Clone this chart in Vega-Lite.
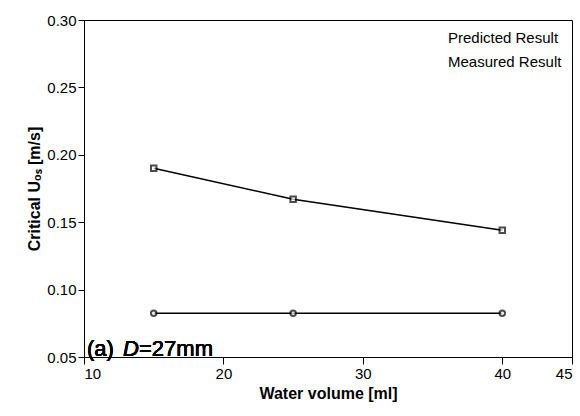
{
  "$schema": "https://vega.github.io/schema/vega-lite/v6.json",
  "width": 488,
  "height": 337,
  "autosize": {"type": "none"},
  "padding": {"left": 84, "top": 20, "right": 8, "bottom": 59},
  "background": "white",
  "config": {
    "font": "Liberation Sans",
    "view": {"stroke": "black", "strokeWidth": 1},
    "axis": {
      "domainColor": "black",
      "domainWidth": 1,
      "labelColor": "black",
      "labelFontSize": 15,
      "titleColor": "black",
      "titleFontSize": 16,
      "titleFontWeight": "bold",
      "grid": false
    }
  },
  "data": {
    "values": [
      {"volume": 15, "u": 0.190, "series": "Predicted Result"},
      {"volume": 25, "u": 0.167, "series": "Predicted Result"},
      {"volume": 40, "u": 0.144, "series": "Predicted Result"},
      {"volume": 15, "u": 0.0825, "series": "Measured Result"},
      {"volume": 25, "u": 0.0825, "series": "Measured Result"},
      {"volume": 40, "u": 0.0825, "series": "Measured Result"}
    ]
  },
  "layer": [
    {
      "mark": {"type": "line", "color": "black", "strokeWidth": 1.5},
      "encoding": {
        "x": {
          "field": "volume", "type": "quantitative",
          "scale": {"domain": [10, 45], "nice": false, "zero": false},
          "axis": {"title": "Water volume [ml]", "values": [10, 20, 30, 40, 45], "tickSize": 7, "tickColor": "black"}
        },
        "y": {
          "field": "u", "type": "quantitative",
          "scale": {"domain": [0.05, 0.30], "nice": false, "zero": false},
          "axis": {"title": "Critical Uₒₛ [m/s]", "values": [0.05, 0.1, 0.15, 0.2, 0.25, 0.3], "format": ".2f", "tickSize": 6, "tickColor": "black"}
        },
        "detail": {"field": "series", "type": "nominal"}
      }
    },
    {
      "mark": {"type": "point", "filled": true, "fill": "white", "stroke": "black"},
      "encoding": {
        "x": {"field": "volume", "type": "quantitative"},
        "y": {"field": "u", "type": "quantitative"},
        "shape": {
          "field": "series", "type": "nominal",
          "scale": {"domain": ["Predicted Result", "Measured Result"], "range": ["square", "circle"]},
          "legend": {
            "title": null,
            "orient": "top-right",
            "offset": 10,
            "symbolSize": 200,
            "symbolStrokeColor": "black",
            "symbolFillColor": "white",
            "labelFontSize": 15,
            "labelColor": "black",
            "labelOffset": 8
          }
        }
      }
    },
    {
      "mark": {"type": "text", "text": "(a)", "align": "left", "baseline": "alphabetic", "fontSize": 22, "fontWeight": "normal", "dx": 3, "dy": -1, "color": "black"},
      "encoding": {"x": {"datum": 10, "type": "quantitative"}, "y": {"datum": 0.05, "type": "quantitative"}}
    },
    {
      "mark": {"type": "text", "text": "D", "align": "left", "baseline": "alphabetic", "fontSize": 22, "fontWeight": "normal", "fontStyle": "italic", "dx": 39, "dy": -1, "color": "black"},
      "encoding": {"x": {"datum": 10, "type": "quantitative"}, "y": {"datum": 0.05, "type": "quantitative"}}
    },
    {
      "mark": {"type": "text", "text": "=27mm", "align": "left", "baseline": "alphabetic", "fontSize": 22, "fontWeight": "normal", "dx": 55, "dy": -1, "color": "black"},
      "encoding": {"x": {"datum": 10, "type": "quantitative"}, "y": {"datum": 0.05, "type": "quantitative"}}
    }
  ]
}
